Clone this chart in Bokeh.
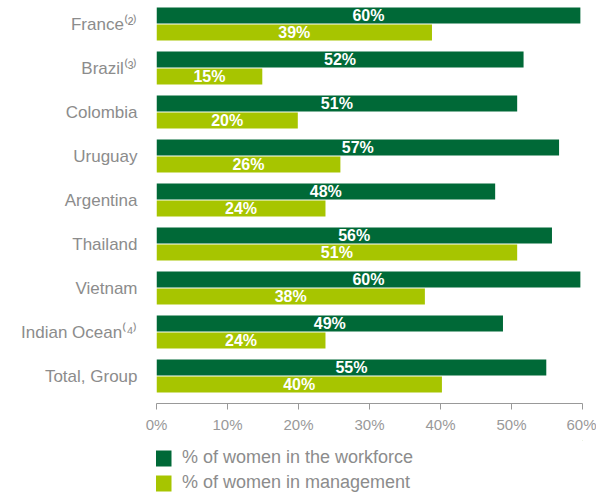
from bokeh.plotting import figure
from bokeh.models import Range1d, ColumnDataSource, Legend, LegendItem
from bokeh.layouts import column
from bokeh.core.properties import value
from bokeh.embed import file_html
from bokeh.resources import INLINE

countries = ["France", "Brazil", "Colombia", "Uruguay", "Argentina",
             "Thailand", "Vietnam", "Indian Ocean", "Total, Group"]
notes = ["⁽²⁾", "⁽³⁾", "", "", "", "", "", "⁽⁴⁾", ""]
workforce = [59.7, 51.7, 50.8, 56.7, 47.7, 55.7, 59.7, 48.8, 54.9]
management = [38.8, 14.9, 19.9, 25.9, 23.8, 50.8, 37.8, 23.8, 40.2]
x_ticks = [0, 10, 20, 30, 40, 50, 60]
tick_labels = ["0%", "10%", "20%", "30%", "40%", "50%", "60%"]
series_names = ["% of women in the workforce", "% of women in management"]

DARK = "#006937"
LIGHT = "#a7c500"
GREY = "#8c8c8c"
FONT = "Liberation Sans"

n = len(countries)
PX = 44.0
end = 23.5 / PX
start = end - 403.0 / PX
grp = [-i for i in range(n)]
off = 8.5 / PX
h = 16.0 / PX

src = ColumnDataSource(dict(
    y_w=[g + off for g in grp],
    y_m=[g - off for g in grp],
    w=workforce, m=management,
    w_mid=[v / 2 for v in workforce], m_mid=[v / 2 for v in management],
    w_lab=["%d%%" % round(v) for v in workforce],
    m_lab=["%d%%" % round(v) for v in management],
))

p = figure(width=596, height=440, output_backend="svg", toolbar_location=None,
           x_range=Range1d(0, 60), y_range=Range1d(start, end),
           min_border_left=156, min_border_right=14,
           min_border_top=0, min_border_bottom=37)
p.grid.visible = False
p.outline_line_color = None
p.background_fill_color = "white"
p.border_fill_color = "white"

r_w = p.hbar(y="y_w", right="w", left=0, height=h, source=src,
             fill_color=DARK, line_color=None)
r_m = p.hbar(y="y_m", right="m", left=0, height=h, source=src,
             fill_color=LIGHT, line_color=None)

p.text(x="w_mid", y="y_w", text="w_lab", source=src, text_align="center",
       text_baseline="middle", text_color="white", text_font=value(FONT),
       text_font_size="16px", text_font_style="bold")
p.text(x="m_mid", y="y_m", text="m_lab", source=src, text_align="center",
       text_baseline="middle", text_color="white", text_font=value(FONT),
       text_font_size="16px", text_font_style="bold")

# category axis (left)
yax = p.yaxis[0]
yax.ticker = grp
yax.major_label_overrides = {g: c + nt for g, c, nt in zip(grp, countries, notes)}
yax.axis_line_color = None
yax.major_tick_line_color = None
yax.minor_tick_line_color = None
yax.major_tick_out = 0
yax.major_tick_in = 0
yax.major_label_standoff = 19
yax.major_label_text_font = FONT
yax.major_label_text_font_size = "17px"
yax.major_label_text_color = GREY

ax = p.xaxis[0]
ax.ticker = x_ticks
ax.major_label_overrides = {t: lab for t, lab in zip(x_ticks, tick_labels)}
ax.axis_line_color = "#999999"
ax.major_tick_line_color = "#999999"
ax.major_tick_in = 0
ax.major_tick_out = 6
ax.minor_tick_line_color = None
ax.major_label_text_font = FONT
ax.major_label_text_font_size = "15px"
ax.major_label_text_color = "#999999"
ax.major_label_standoff = 6

# legend panel (its frame is aligned with the chart frame by the column)
q = figure(width=596, height=55, output_backend="svg", toolbar_location=None,
           x_range=Range1d(0, 1), y_range=Range1d(0, 1),
           x_axis_location=None, y_axis_location=None,
           min_border_left=156, min_border_right=14,
           min_border_top=0, min_border_bottom=0)
q.grid.visible = False
q.outline_line_color = None
q.border_fill_color = "white"
lw = q.hbar(y=[5], right=[3], left=[2], height=1, fill_color=DARK, line_color=None)
lm = q.hbar(y=[5], right=[3], left=[2], height=1, fill_color=LIGHT, line_color=None)
legend = Legend(items=[LegendItem(label=series_names[0], renderers=[lw]),
                       LegendItem(label=series_names[1], renderers=[lm])],
                location=(-3, 2), orientation="vertical",
                glyph_width=20, glyph_height=20, label_height=20, spacing=4,
                label_standoff=9, padding=0, margin=0,
                border_line_color=None, background_fill_alpha=0,
                label_text_font=FONT, label_text_font_size="18px",
                label_text_color=GREY)
q.add_layout(legend, "center")

layout = column(p, q, spacing=0)
open("out.html", "w").write(file_html(layout, INLINE))
